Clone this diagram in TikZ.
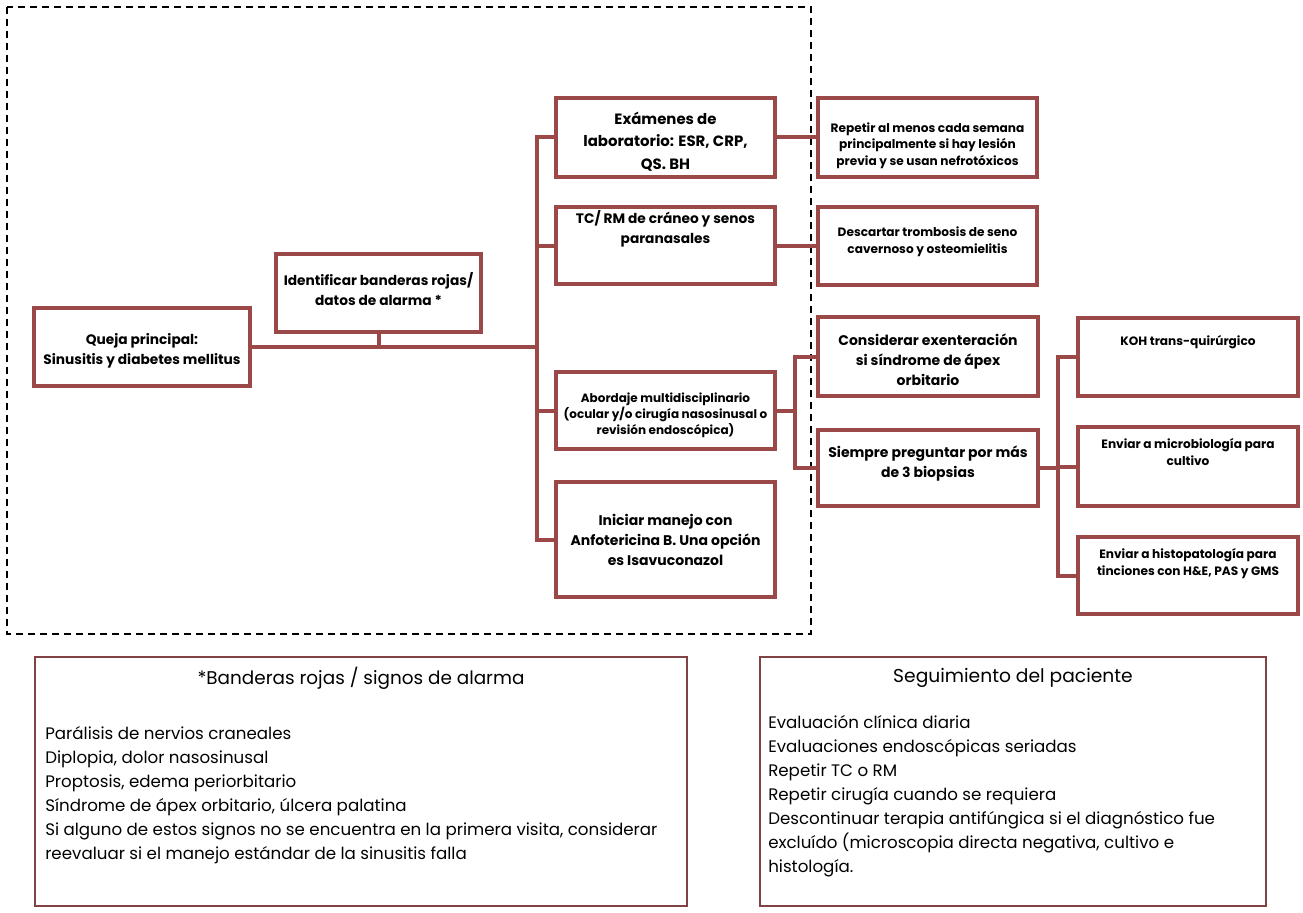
\documentclass[tikz,border=0pt]{standalone}
\usepackage{fontspec}
\setmainfont{Poppins}
\usetikzlibrary{fit}
\definecolor{granate}{RGB}{155,72,72}
\definecolor{granoscuro}{RGB}{128,66,66}

\begin{document}
\begin{tikzpicture}[x=0.75pt,y=-0.75pt]
        % Estilos de cajas y lineas
        \tikzstyle{caja} = [draw=granate, line width=3pt, inner sep=0pt]
        \tikzstyle{linea} = [draw=granate, line width=3pt]
        \tikzstyle{nota} = [draw=granoscuro, line width=1.5pt, inner sep=0pt]
        \tikzstyle{texto} = [align=center, inner sep=0pt]
        \tikzstyle{grande} = [texto, font=\bfseries\fontsize{10.5}{15}\selectfont]
        \tikzstyle{media} = [texto, font=\bfseries\fontsize{10.3}{15}\selectfont]
        \tikzstyle{chica} = [texto, font=\bfseries\fontsize{9.1}{12.5}\selectfont]
        \useasboundingbox (0,0) rectangle (1303,913);

        % Marco punteado
        \draw[line width=1.7pt, dash pattern=on 5.5pt off 3.5pt] (7,7) rectangle (811,634);

        % Cajas (solo el contorno)
        \node[caja, fit={(34,308) (250,386)}] (queja) {};
        \node[caja, fit={(276,254) (481,332)}] (banderas) {};
        \node[caja, fit={(556,98) (775,177)}] (lab) {};
        \node[caja, fit={(556,207) (775,284)}] (tc) {};
        \node[caja, fit={(556,372) (775,449)}] (abordaje) {};
        \node[caja, fit={(556,482) (775,597)}] (anfo) {};
        \node[caja, fit={(818,98) (1037,177)}] (repetir) {};
        \node[caja, fit={(818,207) (1037,285)}] (descartar) {};
        \node[caja, fit={(818,317) (1038,396)}] (exent) {};
        \node[caja, fit={(818,430) (1038,506)}] (biopsias) {};
        \node[caja, fit={(1078,318) (1298,396)}] (koh) {};
        \node[caja, fit={(1078,427) (1298,506)}] (micro) {};
        \node[caja, fit={(1078,537) (1298,614)}] (histo) {};

        % Textos de las cajas
        \node[media] (quejatxt) at ([yshift=-2.5]queja.center) {Queja principal:\\Sinusitis y diabetes mellitus};
        \node[media] (banderastxt) at ([yshift=3]banderas.center) {Identificar banderas rojas/\\datos de alarma *};
        \node[texto, font=\bfseries\fontsize{11.2}{17}\selectfont] (labtxt) at ([yshift=-3]lab.center) {Exámenes de\\laboratorio: ESR, CRP,\\QS. BH};
        \node[media, anchor=north] (tctxt) at ([yshift=-4]tc.north) {TC/ RM de cráneo y senos\\paranasales};
        \node[texto, font=\bfseries\fontsize{9}{10.5}\selectfont] (abordajetxt) at ([yshift=-3.5]abordaje.center) {Abordaje multidisciplinario\\(ocular y/o cirugía nasosinusal o\\revisión endoscópica)};
        \node[grande] (anfotxt) at (anfo.center) {Iniciar manejo con\\Anfotericina B. Una opción\\es Isavuconazol};
        \node[chica] (repetirtxt) at ([yshift=-6]repetir.center) {Repetir al menos cada semana\\principalmente si hay lesión\\previa y se usan nefrotóxicos};
        \node[chica] (descartartxt) at ([yshift=3]descartar.center) {Descartar trombosis de seno\\cavernoso y osteomielitis};
        \node[grande] (exenttxt) at ([yshift=-2.5]exent.center) {Considerar exenteración\\si síndrome de ápex\\orbitario};
        \node[grande] (biopsiastxt) at ([yshift=3]biopsias.center) {Siempre preguntar por más\\de 3 biopsias};
        \node[chica, anchor=north] (kohtxt) at ([yshift=-14]koh.north) {KOH trans-quirúrgico};
        \node[chica, anchor=north] (microtxt) at ([yshift=-10]micro.north) {Enviar a microbiología para\\cultivo};
        \node[chica, anchor=north] (histotxt) at ([yshift=-10]histo.north) {Enviar a histopatología para\\tinciones con H\&E, PAS y GMS};

        % Conexiones
        \coordinate (tronco) at (537,0);
        \coordinate (llave) at (795,0);
        \coordinate (llave2) at (1058,0);
        \draw[linea] (lab.west) -- (lab.west -| tronco) |- (anfo.west);
        \foreach \c in {tc, abordaje}{
        \draw[linea] (\c.west) -- (\c.west -| tronco);}
        \draw[linea] (queja.east) -- (queja.east -| tronco);
        \draw[linea] (banderas.south) -- (banderas.south |- queja.east);
        \draw[linea] (lab.east) -- (lab.east -| repetir.west);
        \draw[linea] (tc.east) -- (tc.east -| descartar.west);
        \draw[linea] (abordaje.east) -- (abordaje.east -| llave);
        \draw[linea] (exent.west) -| (abordaje.east -| llave) |- (biopsias.west);
        \draw[linea] (biopsias.east) -- (biopsias.east -| llave2);
        \draw[linea] (koh.west) -| (biopsias.east -| llave2) |- (histo.west);
        \draw[linea] (micro.west) -- (micro.west -| llave2);

        % Notas de abajo
        \node[nota, fit={(35,657) (687,906)}] (alarma) {};
        \node[anchor=north, font=\fontsize{13.8}{16}\selectfont] (alarmatit) at ([yshift=-5]alarma.north) {*Banderas rojas / signos de alarma};
        \node[anchor=north west, align=left, inner sep=0pt, font=\fontsize{12.5}{18}\selectfont] (alarmalista) at (45,726) {Parálisis de nervios craneales\\Diplopia, dolor nasosinusal\\Proptosis, edema periorbitario\\Síndrome de ápex orbitario, úlcera palatina\\Si alguno de estos signos no se encuentra en la primera visita, considerar\\reevaluar si el manejo estándar de la sinusitis falla};

        \node[nota, fit={(760,657) (1266,906)}] (seguim) {};
        \node[anchor=north, font=\fontsize{14}{16}\selectfont] (seguimtit) at ([yshift=-6]seguim.north) {Seguimiento del paciente};
        \node[anchor=north west, align=left, inner sep=0pt, font=\fontsize{12.5}{18}\selectfont] (seguimlista) at (768,715) {Evaluación clínica diaria\\Evaluaciones endoscópicas seriadas\\Repetir TC o RM\\Repetir cirugía cuando se requiera\\Descontinuar terapia antifúngica si el diagnóstico fue\\excluído (microscopia directa negativa, cultivo e\\histología.};
\end{tikzpicture}
\end{document}
